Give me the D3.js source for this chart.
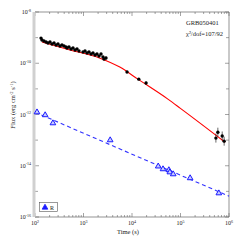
<!DOCTYPE html>
<html><head><meta charset="utf-8">
<script src="https://cdn.jsdelivr.net/npm/d3@7"></script>
<style>body{margin:0;background:#fff}svg{display:block}</style>
</head><body><svg id="c" width="240" height="240"></svg>
<script>
// X-ray data (black)
const xrayT = [133,139,153,169,185,204,224,247,271,298,327,360,396,435,457,502,552,608,668,735,808,977,1075,1181,1298,1428,1570,1726,1897,2089,2296,2523,2649,2911,7900,13800,19500,537000,589000,724000,794000];
const xrayF = [9.6e-10,8.05e-10,7.36e-10,6.73e-10,6.15e-10,6.73e-10,5.62e-10,6.15e-10,5.14e-10,5.62e-10,4.70e-10,5.14e-10,4.70e-10,4.30e-10,3.93e-10,4.30e-10,3.59e-10,3.93e-10,3.28e-10,3.59e-10,3.0e-10,2.74e-10,3.0e-10,2.51e-10,2.74e-10,2.29e-10,2.51e-10,2.09e-10,2.29e-10,1.91e-10,2.29e-10,1.75e-10,1.46e-10,1.60e-10,4.57e-11,2.4e-11,1.7e-11,1.2e-13,2.04e-13,1.45e-13,9.1e-14];
const xrayErrFactor = [1.1,1.1,1.1,1.1,1.1,1.1,1.1,1.1,1.1,1.1,1.1,1.1,1.1,1.1,1.1,1.1,1.1,1.1,1.1,1.1,1.1,1.1,1.1,1.1,1.1,1.1,1.1,1.1,1.1,1.1,1.1,1.1,1.15,1.15,1.1,1.1,1.15,1.5,1.5,1.5,1.5];
// fitted curve
const fitT = [139,525,2190,5600,13200,55000,98000,830000];
const fitF = [6.76e-10,3.31e-10,1.58e-10,7.08e-11,2.40e-11,3.98e-12,1.78e-12,8.3e-14];
// R band (blue)
const rT = [110,162,234,3550,34700,43600,57500,60300,70800,158000,617000];
const rF = [1.23e-12,9.5e-13,4.6e-13,1.0e-13,9.5e-15,7.4e-15,6.8e-15,5.6e-15,4.7e-15,3.3e-15,8.5e-16];
const rFitT = [100,1e6];
const rFitF = [1.23e-12,6.5e-16];
const xTicks = [1e2,1e3,1e4,1e5,1e6];
const xTickExp = ["2","3","4","5","6"];
const yTicks = [1e-8,1e-10,1e-12,1e-14,1e-16];
const yTickExp = ["-8","-10","-12","-14","-16"];
const legendLabels = ["R"];
const titleLines = ["GRB050401","χ²/dof=107/92"];

const svg = d3.select("#c");
const m = {l:35,r:229,t:12,b:217};
const x = d3.scaleLog().domain([1e2,1e6]).range([m.l,m.r]);
const y = d3.scaleLog().domain([1e-16,1e-8]).range([m.b,m.t]);
const font = "Liberation Serif, Times New Roman, serif";
const axC = "#666";

// minor ticks
const xMinor = [];
for (let e=2;e<6;e++) for (let k=1;k<10;k++) xMinor.push(k*Math.pow(10,e));
xMinor.push(1e6);
const yMinor = [];
for (let e=-16;e<=-8;e++) yMinor.push(Math.pow(10,e));

const g = svg.append("g");
xMinor.forEach(v=>{
  const major = xTicks.some(t=>Math.abs(t-v)/v<1e-6);
  const L = major?4:2;
  g.append("line").attr("x1",x(v)).attr("x2",x(v)).attr("y1",m.b).attr("y2",m.b-L).attr("stroke",axC).attr("stroke-width",0.6);
  g.append("line").attr("x1",x(v)).attr("x2",x(v)).attr("y1",m.t).attr("y2",m.t+L).attr("stroke",axC).attr("stroke-width",0.6);
});
yMinor.forEach(v=>{
  const major = yTicks.some(t=>Math.abs(t-v)/v<1e-6);
  const L = major?4:3;
  g.append("line").attr("x1",m.l).attr("x2",m.l+L).attr("y1",y(v)).attr("y2",y(v)).attr("stroke",axC).attr("stroke-width",0.6);
  g.append("line").attr("x1",m.r).attr("x2",m.r-L).attr("y1",y(v)).attr("y2",y(v)).attr("stroke",axC).attr("stroke-width",0.6);
});
// frame
g.append("line").attr("x1",m.l).attr("x2",m.r).attr("y1",m.t).attr("y2",m.t).attr("stroke",axC).attr("stroke-width",0.7);
g.append("line").attr("x1",m.l).attr("x2",m.r).attr("y1",m.b).attr("y2",m.b).attr("stroke",axC).attr("stroke-width",0.7);
g.append("line").attr("x1",m.r).attr("x2",m.r).attr("y1",m.t).attr("y2",m.b).attr("stroke",axC).attr("stroke-width",0.7);
g.append("line").attr("x1",m.l-1).attr("x2",m.l-1).attr("y1",m.t).attr("y2",m.b).attr("stroke","#d0d0d0").attr("stroke-width",3);

// tick labels
xTicks.forEach((v,i)=>{
  const t = g.append("text").attr("x",x(v)).attr("y",m.b+8).attr("text-anchor","middle")
    .attr("font-family",font).attr("font-size",6).attr("fill","#222");
  t.append("tspan").text("10");
  t.append("tspan").attr("dy",-2.5).attr("font-size",4).text(xTickExp[i]);
});
yTicks.forEach((v,i)=>{
  const t = g.append("text").attr("x",m.l-4).attr("y",y(v)+2).attr("text-anchor","end")
    .attr("font-family",font).attr("font-size",6).attr("fill","#222");
  t.append("tspan").text("10");
  t.append("tspan").attr("dy",-2.5).attr("font-size",4).text(yTickExp[i]);
});
// axis titles
g.append("text").attr("x",128).attr("y",234).attr("text-anchor","middle")
  .attr("font-family",font).attr("font-size",6.5).attr("fill","#222").text("Time (s)");
const yt = g.append("text").attr("transform","translate(15,105) rotate(-90)").attr("text-anchor","middle")
  .attr("font-family",font).attr("font-size",6.5).attr("fill","#222");
yt.append("tspan").text("Flux (erg cm");
yt.append("tspan").attr("dy",-2.5).attr("font-size",4.5).text("-2");
yt.append("tspan").attr("dy",2.5).text(" s");
yt.append("tspan").attr("dy",-2.5).attr("font-size",4.5).text("-1");
yt.append("tspan").attr("dy",2.5).text(")");

// title text
titleLines.forEach((s,i)=>{
  g.append("text").attr("x",186).attr("y",25+i*10.5).attr("font-family",font)
   .attr("font-size",6.5).attr("fill","#222").text(s);
});

// fits
const line = d3.line().x(d=>x(d[0])).y(d=>y(d[1])).curve(d3.curveMonotoneX);
g.append("path").attr("d",line(fitT.map((t,i)=>[t,fitF[i]]))).attr("fill","none").attr("stroke","#f00").attr("stroke-width",1.1);
g.append("path").attr("d",d3.line().x(d=>x(d[0])).y(d=>y(d[1]))(rFitT.map((t,i)=>[t,rFitF[i]])))
  .attr("fill","none").attr("stroke","#33f").attr("stroke-width",1.1).attr("stroke-dasharray","4,3");

// x-ray points
xrayT.forEach((t,i)=>{
  const f = xrayF[i], k = xrayErrFactor[i];
  g.append("line").attr("x1",x(t)).attr("x2",x(t)).attr("y1",y(f*k)).attr("y2",y(f/k)).attr("stroke","#000").attr("stroke-width",0.6);
  g.append("circle").attr("cx",x(t)).attr("cy",y(f)).attr("r",1.7).attr("fill","#000");
});
// R points
const tri = d3.symbol().type(d3.symbolTriangle).size(14);
rT.forEach((t,i)=>{
  g.append("path").attr("d",tri()).attr("transform",`translate(${x(t)},${y(rF[i])})`)
   .attr("fill","#c8ccff").attr("stroke","#1a1aff").attr("stroke-width",1);
});

// legend
g.append("rect").attr("x",39.5).attr("y",202.5).attr("width",18).attr("height",9).attr("fill","#fff").attr("stroke","#555").attr("stroke-width",0.6);
g.append("path").attr("d",tri()).attr("transform","translate(45,207.5)").attr("fill","#1a1aff").attr("stroke","#1a1aff").attr("stroke-width",0.8);
g.append("text").attr("x",50).attr("y",209.5).attr("font-family",font).attr("font-size",6).attr("fill","#222").text(legendLabels[0]);
</script></body></html>
